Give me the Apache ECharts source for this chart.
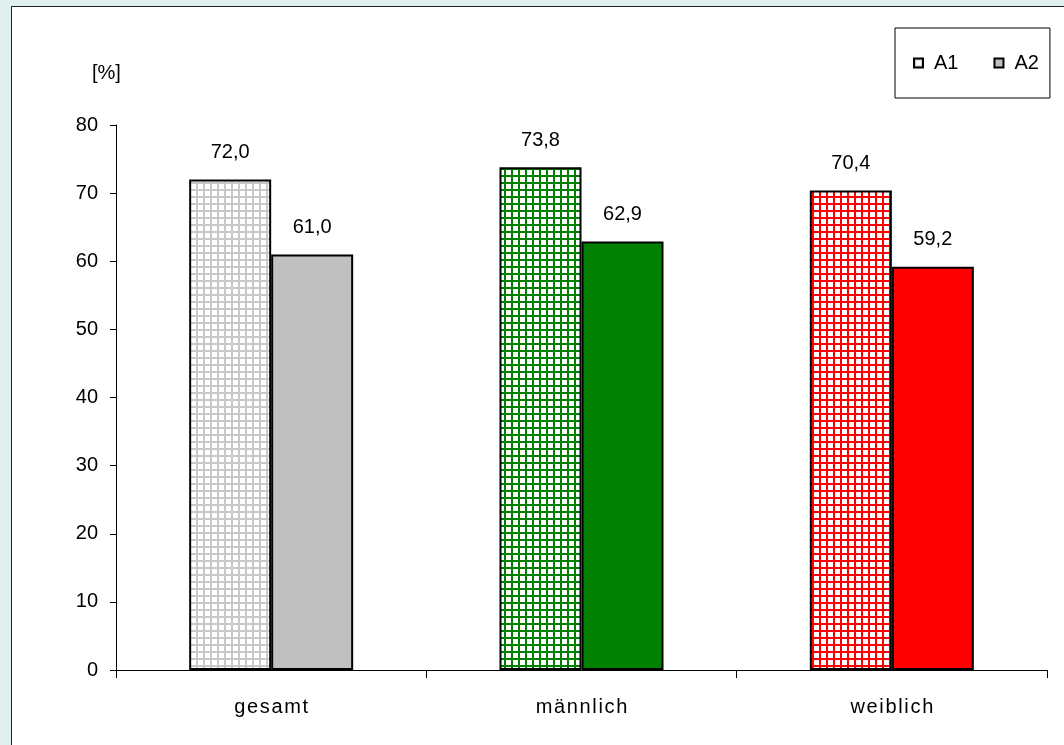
<!DOCTYPE html>
<html><head><meta charset="utf-8">
<script src="https://cdn.jsdelivr.net/npm/echarts@6/dist/echarts.min.js"></script>
<style>
html,body{margin:0;padding:0;background:#dff0f0;width:1064px;height:745px;overflow:hidden}
#frame{position:absolute;left:11px;top:6px;width:1060px;height:745px;background:#fff;border-left:1px solid #222;border-top:1px solid #222;box-sizing:border-box}
#chart{position:absolute;left:0;top:0;width:1064px;height:745px}
</style></head>
<body><div id="frame"></div><div id="chart"></div>
<script>
const categories = ['gesamt', 'männlich', 'weiblich'];
const seriesNames = ['A1', 'A2'];
const valuesA1 = [72.0, 73.8, 70.4];
const valuesA2 = [61.0, 62.9, 59.2];
const colorsBase = ['#c0c0c0', '#008000', '#ff0000'];
const patternLine = ['#c8c8c8', '#008000', '#ff0000'];

function gridPattern(col) {
  const c = document.createElement('canvas');
  c.width = 7; c.height = 7;
  const g = c.getContext('2d');
  g.fillStyle = '#ffffff'; g.fillRect(0, 0, 7, 7);
  g.fillStyle = col;
  g.fillRect(0, 0, 2, 7);
  g.fillRect(0, 0, 7, 2);
  return { image: c, repeat: 'repeat' };
}
const FONT = '"Liberation Sans", Arial, sans-serif';
const fmt = p => p.value.toFixed(1).replace('.', ',');
const spaced = s => s.split('').join('\u200A');

const chart = echarts.init(document.getElementById('chart'), null, { renderer: 'canvas' });
chart.setOption({
  backgroundColor: 'transparent',
  animation: false,
  textStyle: { fontFamily: FONT },
  graphic: [{ type: 'text', left: 92, top: 63, style: { text: '[%]', font: '20px ' + FONT, fill: '#000' } }],
  legend: {
    data: seriesNames,
    left: 895, top: 28,
    padding: [25, 11, 25, 18],
    itemGap: 35,
    itemWidth: 9, itemHeight: 9,
    icon: 'rect',
    borderColor: '#000', borderWidth: 1, borderRadius: 0,
    backgroundColor: '#fff',
    textStyle: { fontSize: 20, color: '#000', fontFamily: FONT, padding: [0, 0, 0, 6] }
  },
  grid: { left: 116, right: 17, top: 125, bottom: 75 },
  xAxis: {
    type: 'category', data: categories,
    axisLine: { lineStyle: { color: '#000', width: 1 } },
    axisTick: { show: true, length: 8, lineStyle: { color: '#000' } },
    axisLabel: { color: '#000', fontSize: 20, margin: 27, fontFamily: FONT, formatter: v => spaced(v) }
  },
  yAxis: {
    type: 'value', min: 0, max: 80, interval: 10,
    axisLine: { show: true, lineStyle: { color: '#000', width: 1 } },
    axisTick: { show: true, length: 6, lineStyle: { color: '#000' } },
    splitLine: { show: false },
    axisLabel: { color: '#000', fontSize: 20, margin: 18, fontFamily: FONT }
  },
  series: [
    {
      name: seriesNames[0], type: 'bar', barWidth: 82, barGap: '0%',
      itemStyle: { color: gridPattern(patternLine[0]), borderColor: '#000', borderWidth: 2 },
      data: valuesA1.map((v, i) => ({ value: v, itemStyle: { color: gridPattern(patternLine[i]) } })),
      label: { show: true, position: 'top', distance: 17, formatter: fmt, color: '#000', fontSize: 20, fontFamily: FONT }
    },
    {
      name: seriesNames[1], type: 'bar', barWidth: 82, barGap: '0%',
      itemStyle: { color: colorsBase[0], borderColor: '#000', borderWidth: 2 },
      data: valuesA2.map((v, i) => ({ value: v, itemStyle: { color: colorsBase[i] } })),
      label: { show: true, position: 'top', distance: 17, formatter: fmt, color: '#000', fontSize: 20, fontFamily: FONT }
    }
  ]
});
</script></body></html>
